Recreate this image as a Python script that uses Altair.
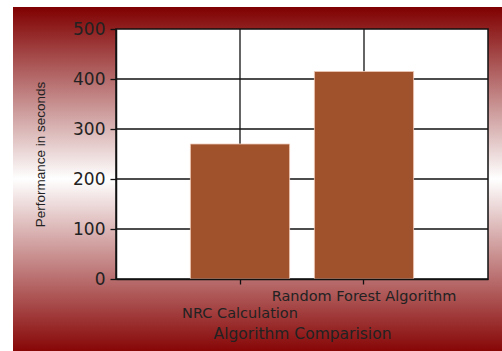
import altair as alt
import pandas as pd

categories = ["NRC Calculation", "Random Forest Algorithm"]
values = [270, 415]
y_ticks = [0, 100, 200, 300, 400, 500]
grid_y = [100, 200, 300, 400]

W, H = 372, 250

bars_df = pd.DataFrame({"Algorithm": categories, "Seconds": values})
hgrid_df = pd.DataFrame({"g": grid_y})
vgrid_df = pd.DataFrame({"Algorithm": categories})
one = pd.DataFrame({"k": [0]})

red = "#800000"
gradient = alt.LinearGradient(
    gradient="linear", x1=0, y1=0, x2=0, y2=1,
    stops=[
        alt.GradientStop(color=red, offset=0),
        alt.GradientStop(color="#ffffff", offset=0.5),
        alt.GradientStop(color="#870606", offset=1),
    ],
)

x_scale = alt.Scale(domain=categories, paddingInner=0.2, paddingOuter=0.6)
y_scale = alt.Scale(domain=[0, 500], nice=False)

bg = alt.Chart(one).mark_rect(fill=gradient).encode(
    x=alt.value(13 - 116), x2=alt.value(502 - 116),
    y=alt.value(7 - 29), y2=alt.value(351 - 29),
)
plot_bg = alt.Chart(one).mark_rect(fill="white", stroke="#111111", strokeWidth=1.5).encode(
    x=alt.value(0), x2=alt.value(W), y=alt.value(0), y2=alt.value(H),
)
hgrid = alt.Chart(hgrid_df).mark_rule(color="#111111", strokeWidth=1.3).encode(
    y=alt.Y("g:Q", scale=y_scale),
)
vgrid = alt.Chart(vgrid_df).mark_rule(color="#111111", strokeWidth=1.3).encode(
    x=alt.X("Algorithm:N", scale=x_scale),
)

bars = alt.Chart(bars_df).mark_bar(
    color="#A0522D", stroke="#efc9b8", strokeWidth=0.8
).encode(
    x=alt.X(
        "Algorithm:N",
        scale=x_scale,
        sort=categories,
        axis=alt.Axis(
            title="Algorithm Comparision",
            labelAngle=0,
            labelAlign="center",
            bandPosition=0.5,
            grid=False,
            zindex=1,
            domainColor="#111111",
            domainWidth=1.5,
            tickColor="#111111",
            tickSize=5,
            tickWidth=1.3,
            labelFont="DejaVu Sans",
            labelFontSize=14.5,
            labelColor="#222222",
            labelBaseline="alphabetic",
            labelPadding=16,
            labelLineHeight=17,
            labelLimit=400,
            labelOverlap=False,
            labelExpr="datum.value == 'NRC Calculation' ? ['', datum.label] : datum.label",
            titleFont="DejaVu Sans",
            titleFontSize=15.5,
            titleFontWeight="normal",
            titleColor="#222222",
            titleBaseline="middle",
            titleY=54,
        ),
    ),
    y=alt.Y(
        "Seconds:Q",
        scale=y_scale,
        axis=alt.Axis(
            title="Performance in seconds",
            values=y_ticks,
            grid=False,
            zindex=1,
            domainColor="#111111",
            domainWidth=1.5,
            tickColor="#111111",
            tickSize=6,
            tickWidth=1.3,
            labelFont="DejaVu Sans",
            labelFontSize=17,
            labelColor="#222222",
            labelPadding=5,
            titleFont="Liberation Sans",
            titleFontSize=13.5,
            titleFontWeight="normal",
            titleColor="#222222",
            titleAngle=-90,
            titleBaseline="middle",
            titleAlign="center",
            titleX=-76,
            titleY=125,
        ),
    ),
)

chart = alt.layer(bg, plot_bg, hgrid, vgrid, bars).properties(
    width=W,
    height=H,
    autosize=alt.AutoSizeParams(type="none"),
    padding={"left": 116, "top": 29, "right": 14, "bottom": 72},
    background="white",
).configure_view(stroke=None)

chart.save("out.html", embed_options={"renderer": "svg", "actions": False})
